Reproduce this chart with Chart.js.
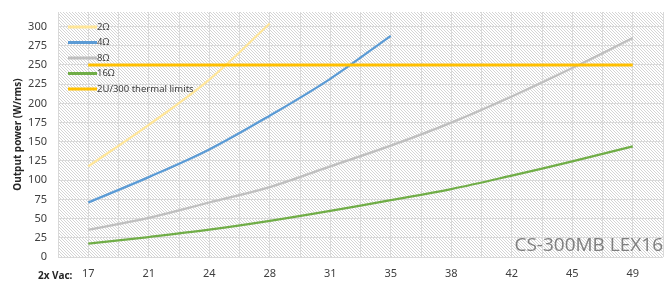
<!DOCTYPE html>
<html>
<head>
<meta charset="utf-8">
<script src="https://cdn.jsdelivr.net/npm/chart.js@4.4.1/dist/chart.umd.min.js"></script>
<style>
  html, body { margin: 0; padding: 0; background: #fff; }
  #wrap { width: 668px; height: 287px; }
</style>
</head>
<body>
<div id="wrap"><canvas id="chart" width="668" height="287"></canvas></div>
<script>
// x categories (supply voltage) and y tick labels
const categories = ['17', '21', '24', '28', '31', '35', '38', '42', '45', '49'];
const yTicks = [0, 25, 50, 75, 100, 125, 150, 175, 200, 225, 250, 275, 300];

// output power per load
const power2ohm = [118, 172, 231, 304];
const power4ohm = [71, 104, 140, 184, 232, 288];
const power8ohm = [35.5, 51, 71, 91, 118, 145, 175, 209, 246, 285];
const power16ohm = [17.5, 26, 35.5, 47, 60, 74, 88.5, 106, 124.5, 144];
const thermalLimit = [250, 250, 250, 250, 250, 250, 250, 250, 250, 250];

const seriesLabels = ['2Ω', '4Ω', '8Ω', '16Ω', '2U/300 thermal limits'];
const seriesColors = ['#FFE699', '#5B9BD5', '#BFBFBF', '#70AD47', '#FFC000'];

// turn a value list into points on the category index
function toPoints(values) {
    return values.map((v, i) => ({ x: i, y: v }));
}

// hatch pattern for the plot background (thin "\" lines)
function makeHatch() {
    const n = 3;
    const c = document.createElement('canvas');
    c.width = n;
    c.height = n;
    const g = c.getContext('2d');
    g.fillStyle = '#ffffff';
    g.fillRect(0, 0, n, n);
    g.fillStyle = '#d4d4d4';
    for (let k = 0; k < n; k++) g.fillRect(k, k, 1, 1);
    return c;
}

const hatchPlugin = {
    id: 'hatch',
    beforeDraw(chart) {
        const { ctx, chartArea: a } = chart;
        ctx.save();
        ctx.fillStyle = ctx.createPattern(makeHatch(), 'repeat');
        ctx.fillRect(a.left, a.top, a.right - a.left, a.bottom - a.top);
        ctx.restore();
    }
};

// legend inside the plot, plus the extra texts
const extrasPlugin = {
    id: 'extras',
    afterDatasetsDraw(chart) {
        const { ctx, chartArea: a } = chart;
        ctx.save();

        // legend
        ctx.font = '9.5px "Noto Sans", sans-serif';
        ctx.textBaseline = 'middle';
        ctx.textAlign = 'left';
        seriesLabels.forEach((label, i) => {
            const y = 27 + i * 15.5;
            ctx.strokeStyle = seriesColors[i];
            ctx.lineWidth = 3;
            ctx.beginPath();
            ctx.moveTo(68, y);
            ctx.lineTo(97, y);
            ctx.stroke();
            ctx.fillStyle = '#404040';
            ctx.fillText(label, 97, y);
        });

        // watermark
        ctx.font = '19px "Open Sans", sans-serif';
        ctx.fillStyle = '#7f7f7f';
        ctx.textAlign = 'right';
        ctx.textBaseline = 'alphabetic';
        ctx.fillText('CS-300MB LEX16', a.right, 251);

        // y axis title
        ctx.save();
        ctx.translate(18, (a.top + a.bottom) / 2);
        ctx.rotate(-Math.PI / 2);
        ctx.font = 'bold 10px "Noto Sans", sans-serif';
        ctx.fillStyle = '#262626';
        ctx.textAlign = 'center';
        ctx.textBaseline = 'middle';
        ctx.fillText('Output power (W/rms)', 0, 0);
        ctx.restore();

        // x axis caption
        ctx.font = 'bold 10px "Noto Sans", sans-serif';
        ctx.fillStyle = '#262626';
        ctx.textAlign = 'left';
        ctx.textBaseline = 'middle';
        ctx.fillText('2x Vac:', 38, 276);

        ctx.restore();
    }
};

const datasets = [power2ohm, power4ohm, power8ohm, power16ohm, thermalLimit].map((vals, i) => ({
    label: seriesLabels[i],
    data: toPoints(vals),
    borderColor: seriesColors[i],
    backgroundColor: seriesColors[i],
    borderWidth: i === 4 ? 3 : 2.25,
    pointRadius: 0,
    tension: 0.35,
    fill: false,
    order: i === 4 ? 0 : 5 - i
}));

new Chart(document.getElementById('chart'), {
    type: 'line',
    data: { datasets: datasets },
    plugins: [hatchPlugin, extrasPlugin],
    options: {
        responsive: false,
        animation: false,
        layout: { padding: { top: 12, right: 5, left: 0, bottom: 0 } },
        plugins: {
            legend: { display: false },
            tooltip: { enabled: false }
        },
        scales: {
            x: {
                type: 'linear',
                min: -0.5,
                max: 9.5,
                afterBuildTicks(scale) {
                    const t = [];
                    for (let k = 0; k <= 20; k++) t.push({ value: -0.5 + k * 0.5 });
                    scale.ticks = t;
                },
                afterFit(scale) {
                    scale.height = 30;
                    scale.paddingLeft = 0;
                    scale.paddingRight = 0;
                },
                grid: { color: '#d9d9d9', drawTicks: false },
                border: { display: false },
                ticks: {
                    autoSkip: false,
                    maxRotation: 0,
                    padding: 10,
                    color: '#404040',
                    font: { family: '"Noto Sans", sans-serif', size: 11 },
                    callback: (v) => Number.isInteger(v) ? categories[v] : ''
                }
            },
            y: {
                min: 0,
                max: 319,
                afterBuildTicks(scale) {
                    scale.ticks = yTicks.map(v => ({ value: v }));
                },
                afterFit(scale) {
                    scale.width = 58;
                    scale.paddingTop = 0;
                    scale.paddingBottom = 0;
                },
                grid: { color: '#d9d9d9', drawTicks: false },
                border: { display: false },
                ticks: {
                    padding: 11,
                    color: '#404040',
                    font: { family: '"Noto Sans", sans-serif', size: 11 }
                }
            }
        }
    }
});
</script>
</body>
</html>
